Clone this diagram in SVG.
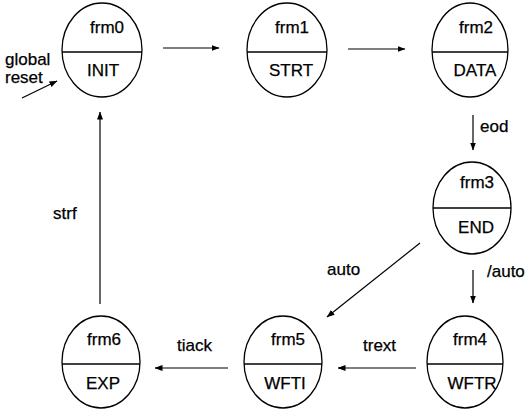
<svg xmlns="http://www.w3.org/2000/svg" width="529" height="412" viewBox="0 0 529 412">
<style>
.st{fill:none;stroke:#000;stroke-width:1.3}
.dv{stroke:#000;stroke-width:1.3}
.tx{font-family:"Liberation Sans",Arial,sans-serif;font-size:17px;fill:#000;stroke:#000;stroke-width:0.25;text-anchor:middle}
.lb{font-family:"Liberation Sans",Arial,sans-serif;font-size:17px;fill:#000;stroke:#000;stroke-width:0.25}
.cn{fill:none;stroke:#000;stroke-width:1.2;marker-end:url(#ah)}
</style>
<defs>
<marker id="ah" markerWidth="8" markerHeight="6" refX="7.5" refY="3" orient="auto" markerUnits="userSpaceOnUse">
<path d="M0,0 L8,3 L0,6 Z" fill="#000"/>
</marker>
</defs>
<rect width="529" height="412" fill="#fff"/>
<g id="frm0">
<ellipse class="st" cx="102" cy="50" rx="40" ry="47"/>
<line class="dv" x1="62" y1="52" x2="142" y2="52"/>
<text class="tx" x="107" y="33">frm0</text>
<text class="tx" x="103" y="76">INIT</text>
</g>
<g id="frm1">
<ellipse class="st" cx="287" cy="50" rx="40" ry="47"/>
<line class="dv" x1="247" y1="52" x2="327" y2="52"/>
<text class="tx" x="292" y="33">frm1</text>
<text class="tx" x="291" y="76">STRT</text>
</g>
<g id="frm2">
<ellipse class="st" cx="470" cy="50" rx="38" ry="47"/>
<line class="dv" x1="432" y1="52" x2="508" y2="52"/>
<text class="tx" x="476" y="33">frm2</text>
<text class="tx" x="475" y="76">DATA</text>
</g>
<g id="frm3">
<ellipse class="st" cx="472" cy="208" rx="39" ry="46"/>
<line class="dv" x1="433" y1="208" x2="511" y2="208"/>
<text class="tx" x="477" y="188">frm3</text>
<text class="tx" x="476" y="233">END</text>
</g>
<g id="frm4">
<ellipse class="st" cx="465" cy="362" rx="38" ry="46"/>
<line class="dv" x1="427" y1="364" x2="503" y2="364"/>
<text class="tx" x="470" y="345">frm4</text>
<text class="tx" x="472" y="389">WFTR</text>
</g>
<g id="frm5">
<ellipse class="st" cx="283" cy="362" rx="39" ry="46"/>
<line class="dv" x1="244" y1="364" x2="322" y2="364"/>
<text class="tx" x="288" y="345">frm5</text>
<text class="tx" x="285" y="389">WFTI</text>
</g>
<g id="frm6">
<ellipse class="st" cx="101" cy="362" rx="39" ry="46"/>
<line class="dv" x1="62" y1="364" x2="140" y2="364"/>
<text class="tx" x="104" y="345">frm6</text>
<text class="tx" x="103" y="389">EXP</text>
</g>
<g id="connectors">
<line class="cn" x1="163" y1="48" x2="219" y2="48"/>
<line class="cn" x1="348" y1="49" x2="405" y2="49"/>
<line class="cn" x1="473" y1="115" x2="473" y2="150"/>
<line class="cn" x1="420" y1="243" x2="327" y2="317"/>
<line class="cn" x1="473" y1="270" x2="473" y2="303"/>
<line class="cn" x1="416" y1="368" x2="338" y2="368"/>
<line class="cn" x1="228" y1="368" x2="155" y2="368"/>
<line class="cn" x1="100" y1="304" x2="100" y2="112"/>
<line class="cn" x1="22" y1="98" x2="57" y2="81"/>
<text class="lb" x="5" y="65">global</text>
<text class="lb" x="5" y="83">reset</text>
<text class="lb" x="480" y="132">eod</text>
<text class="lb" x="327" y="275">auto</text>
<text class="lb" x="487" y="277">/auto</text>
<text class="lb" x="363" y="351">trext</text>
<text class="lb" x="177" y="351">tiack</text>
<text class="lb" x="53" y="219">strf</text>
</g>
</svg>
